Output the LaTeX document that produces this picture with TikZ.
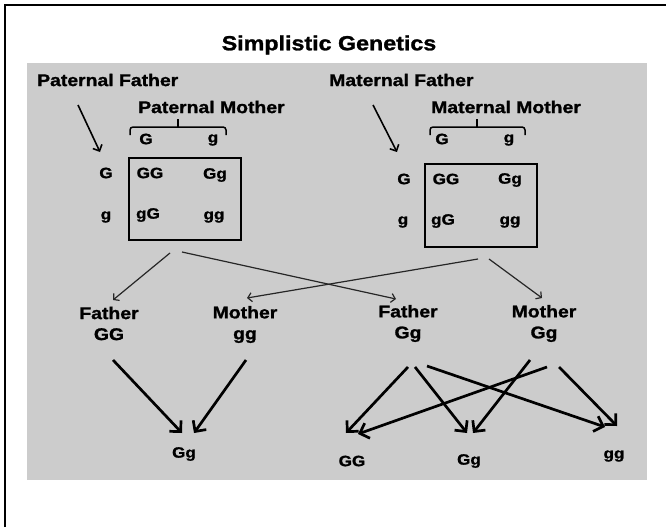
\documentclass[tikz,border=0pt]{standalone}
\usepackage{fontspec}
\setmainfont{Liberation Sans}
\newfontfamily\heavyfont{Liberation Sans Bold}[FakeStretch=1.14, FakeBold=1.3]
\usetikzlibrary{arrows.meta}

\begin{document}
\begin{tikzpicture}[x=1pt,y=-1pt,
    labelText/.style={font=\heavyfont\fontsize{17}{21}\selectfont, inner sep=0pt},
    cellText/.style={font=\heavyfont\fontsize{15}{18}\selectfont, inner sep=0pt},
    punnettBox/.style={draw, line width=2.2pt, minimum width=112pt, minimum height=82pt, inner sep=0pt},
    thinArrow/.style={draw=black!85, line width=1.2pt, -{Straight Barb[length=4pt,width=9pt]}},
    thickArrow/.style={line width=2.7pt, -{Straight Barb[length=8pt,width=16pt]}},
    braceLine/.style={line width=1.5pt, rounded corners=3pt}]
    % Canvas
    \useasboundingbox (0,0) rectangle (666,527);
    \fill[black!20] (27,63) rectangle (647,480);
    \draw[line width=2.7pt] (5,527) -- (5,5) -- (666,5);

    % Title
    \node[font=\heavyfont\fontsize{20.4}{25}\selectfont] (title) at (329,45) {Simplistic Genetics};

    % Grandparents
    \node[labelText, anchor=west] (patFather) at (37,80) {Paternal Father};
    \node[labelText, anchor=west] (matFather) at (329,80) {Maternal Father};
    \node[labelText, anchor=west] (patMother) at (138,107) {Paternal Mother};
    \node[labelText, anchor=west] (matMother) at (431,107) {Maternal Mother};

    % Brackets under the mothers
    \draw[braceLine] (130,135) -- (130,127) -- (226,127) -- (226,135);
    \draw[line width=1.5pt] (178,127) -- (178,119);
    \draw[braceLine] (430,135) -- (430,127) -- (525,127) -- (525,135);
    \draw[line width=1.5pt] (477,127) -- (477,119);

    % Paternal square
    \node[punnettBox] (lBox) at (185,199) {};
    \node[cellText] (lColG) at (146,139) {G};
    \node[cellText] (lColg) at (213,140) {g};
    \node[cellText] (lRowG) at (106,173) {G};
    \node[cellText] (lRowg) at (106,217) {g};
    \node[cellText] (lGG) at (150,173) {GG};
    \node[cellText] (lGg) at (215,175) {Gg};
    \node[cellText] (lgG) at (148,215) {gG};
    \node[cellText] (lgg) at (214,217) {gg};

    % Maternal square
    \node[punnettBox, minimum height=83pt] (rBox) at (481,205.5) {};
    \node[cellText] (rColG) at (442,139) {G};
    \node[cellText] (rColg) at (509,140) {g};
    \node[cellText] (rRowG) at (404,179) {G};
    \node[cellText] (rRowg) at (403,222) {g};
    \node[cellText] (rGG) at (446,179) {GG};
    \node[cellText] (rGg) at (510,180) {Gg};
    \node[cellText] (rgG) at (443,221) {gG};
    \node[cellText] (rgg) at (510,222) {gg};

    % Parents
    \node[labelText, align=center] (fatherGG) at (109,323.5) {Father\\GG};
    \node[labelText, align=center] (motherLeft) at (245,324.5) {Mother\\gg};
    \node[labelText, align=center] (fatherRight) at (408,323.5) {Father\\Gg};
    \node[labelText, align=center] (motherRight) at (544,323.5) {Mother\\Gg};

    % Children
    \node[cellText] (childLeft) at (184,454) {Gg};
    \node[cellText] (childGG) at (352,461) {GG};
    \node[cellText] (childGg) at (469,461) {Gg};
    \node[cellText] (childgg) at (614,456) {gg};

    % Grandfather arrows
    \draw[line width=1.6pt, -{Straight Barb[length=5pt,width=10pt]}]
        ([shift={(41,25)}]patFather.west) -- ([shift={(-6,-21)}]lRowG.center);
    \draw[line width=1.6pt, -{Straight Barb[length=5pt,width=10pt]}]
        ([shift={(44,25)}]matFather.west) -- ([shift={(-7,-27)}]rRowG.center);

    % Squares to parents
    \draw[thinArrow] ([shift={(-15,54)}]lBox.center) -- ([shift={(4,-23.5)}]fatherGG.center);
    \draw[thinArrow] ([shift={(-3,53)}]lBox.center) -- ([shift={(-12,-24.5)}]fatherRight.center);
    \draw[thinArrow] ([shift={(-3,53.5)}]rBox.center) -- ([shift={(2,-26.5)}]motherLeft.center);
    \draw[thinArrow] ([shift={(8,53.5)}]rBox.center) -- ([shift={(-2,-25.5)}]motherRight.center);

    % Parents to children
    \draw[thickArrow] ([shift={(4,36.5)}]fatherGG.center) -- ([shift={(-2,-21)}]childLeft.center);
    \draw[thickArrow] ([shift={(1,35.5)}]motherLeft.center) -- ([shift={(10,-21)}]childLeft.center);
    \draw[thickArrow] ([shift={(0,43.5)}]fatherRight.center) -- ([shift={(-6,-28)}]childGG.center);
    \draw[thickArrow] ([shift={(7,43.5)}]fatherRight.center) -- ([shift={(-2,-28)}]childGg.center);
    \draw[thickArrow] ([shift={(19,42.5)}]fatherRight.center) -- ([shift={(-9,-29)}]childgg.center);
    \draw[thickArrow] ([shift={(-14,36.5)}]motherRight.center) -- ([shift={(4,-28)}]childGg.center);
    \draw[thickArrow] ([shift={(3,43.5)}]motherRight.center) -- ([shift={(6,-27)}]childGG.center);
    \draw[thickArrow] ([shift={(15,43.5)}]motherRight.center) -- ([shift={(3,-30)}]childgg.center);
\end{tikzpicture}
\end{document}
